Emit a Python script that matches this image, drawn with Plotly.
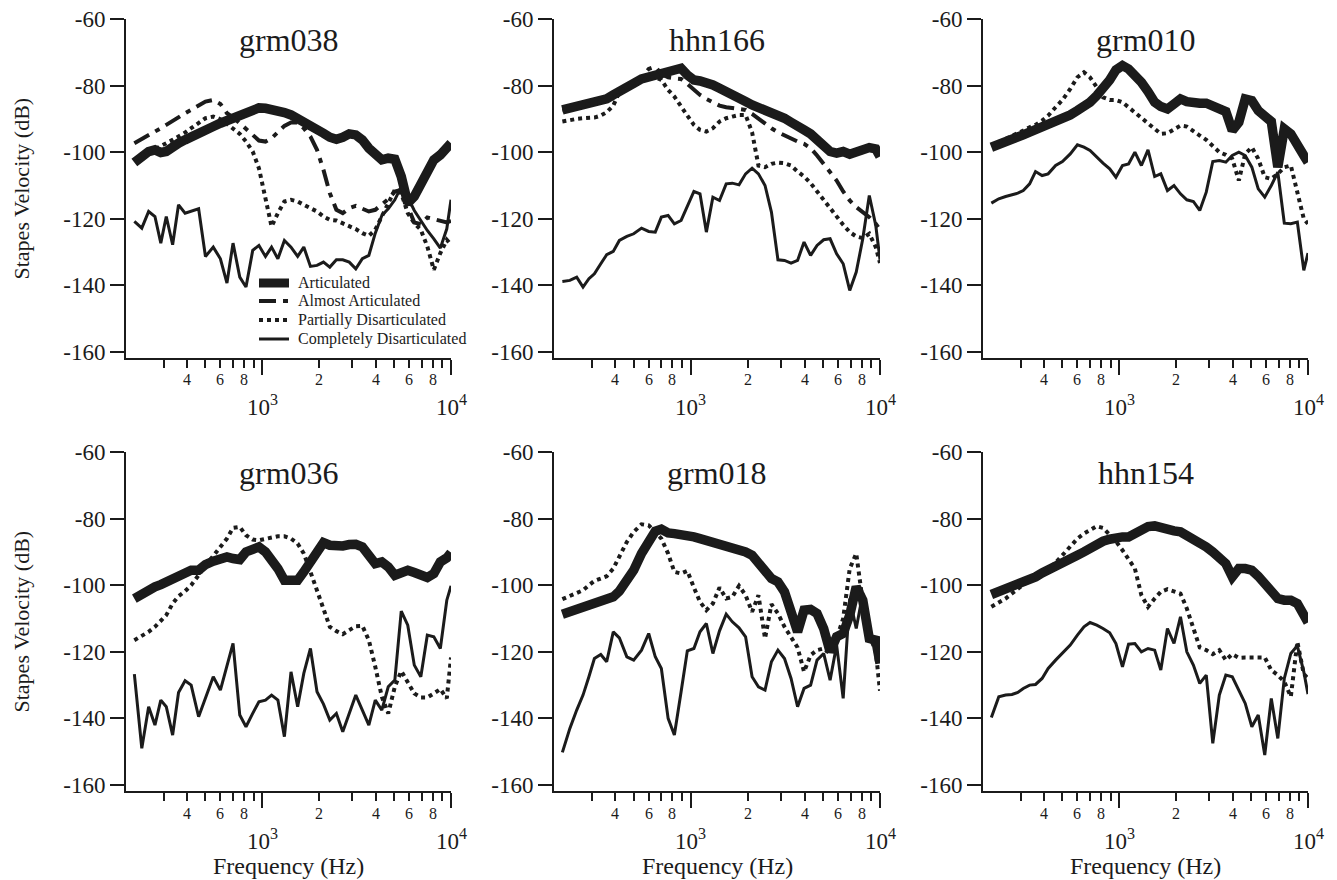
import numpy as np
import plotly.graph_objects as go

# ---------------- data ----------------
FREQ_HZ = [210, 230, 250, 270, 290, 310, 335, 360, 390, 420,
           460, 500, 550, 600, 650, 700, 760, 820, 890, 960,
           1040, 1120, 1210, 1310, 1420, 1540, 1660, 1800, 1950, 2110,
           2280, 2470, 2670, 2890, 3130, 3390, 3670, 3970, 4300, 4650,
           5040, 5450, 5900, 6390, 6920, 7490, 8110, 8780, 9500, 10000]

SERIES_NAMES = ["Articulated", "Almost Articulated",
                "Partially Disarticulated", "Completely Disarticulated"]

grm038_articulated = [
    -103.1, -101.3, -99.8, -99.3, -100.1, -99.8, -98.3, -97.3, -96.3, -95.3,
    -94.3, -93.3, -92.3, -91.3, -90.5, -89.5, -88.3, -87.6, -87.0, -86.7,
    -86.8, -87.1, -87.6, -88.1, -88.8, -89.8, -91.1, -92.1, -92.8, -94.3,
    -95.5, -96.1, -95.5, -94.5, -94.8, -96.3, -98.8, -100.8, -102.3, -101.8,
    -102.1, -107.3, -115.3, -113.3, -109.3, -105.3, -102.3, -100.8, -98.8, -97.3]
grm038_almost = [
    -97.3, -96.1, -94.8, -93.8, -92.8, -91.8, -90.5, -89.3, -88.3, -87.3,
    -86.1, -84.8, -84.3, -85.5, -88.3, -89.5, -91.3, -92.8, -94.8, -96.5,
    -96.8, -95.8, -93.8, -92.1, -91.1, -91.1, -92.8, -95.3, -99.3, -105.3,
    -112.3, -117.3, -118.3, -116.8, -116.1, -117.1, -117.8, -117.3, -115.8, -114.1,
    -111.8, -111.3, -116.3, -121.1, -121.6, -119.6, -120.1, -120.6, -121.1, -120.6]
grm038_partial = [
    -102.3, -101.3, -100.1, -99.1, -98.3, -97.3, -96.3, -95.3, -94.1, -92.8,
    -91.1, -89.8, -89.3, -90.1, -91.5, -92.8, -94.5, -96.8, -99.8, -104.8,
    -113.3, -122.3, -118.3, -114.8, -114.3, -114.8, -115.8, -116.8, -117.8, -119.3,
    -120.3, -120.5, -121.3, -122.1, -123.1, -124.3, -125.1, -123.3, -119.3, -115.3,
    -111.3, -112.3, -118.3, -121.3, -123.3, -128.3, -135.3, -130.3, -126.3, -127.8]
grm038_complete = [
    -120.8, -122.8, -117.8, -119.3, -127.3, -119.3, -127.8, -115.8, -118.3, -117.8,
    -117.0, -131.3, -128.5, -132.0, -139.3, -127.3, -137.5, -140.5, -129.5, -128.0,
    -131.3, -128.5, -132.0, -126.5, -128.5, -131.3, -128.5, -134.3, -134.0, -133.0,
    -134.5, -132.3, -132.3, -133.0, -135.0, -132.0, -131.0, -124.3, -119.0, -117.0,
    -114.3, -110.3, -113.5, -117.5, -120.5, -123.5, -126.0, -128.8, -123.0, -114.3]

hhn166_articulated = [
    -87.3, -86.8, -86.3, -86.0, -85.5, -85.0, -84.5, -84.0, -82.8, -81.5,
    -80.3, -79.3, -78.0, -77.5, -77.0, -76.5, -76.0, -75.3, -74.8, -76.8,
    -78.3, -78.6, -79.0, -79.8, -80.8, -82.0, -83.0, -84.0, -84.8, -85.8,
    -86.5, -87.5, -88.3, -88.8, -89.8, -91.0, -92.5, -93.3, -94.5, -96.0,
    -97.8, -99.8, -100.3, -99.8, -100.6, -99.8, -98.8, -98.6, -99.0, -101.3]
hhn166_almost = [
    -87.5, -87.0, -86.5, -86.2, -85.8, -85.3, -84.8, -84.0, -83.0, -81.8,
    -80.5, -79.0, -77.5, -75.0, -74.3, -76.5, -77.5, -77.8, -78.0, -79.5,
    -81.3, -82.8, -84.0, -85.0, -86.0, -86.5, -86.8, -87.0, -87.3, -88.5,
    -90.0, -91.3, -92.8, -94.0, -95.0, -96.0, -96.8, -97.5, -98.8, -101.0,
    -103.5, -105.8, -108.5, -111.8, -114.5, -116.5, -118.0, -119.5, -121.5, -123.3]
hhn166_partial = [
    -90.8, -90.3, -90.0, -89.8, -89.8, -89.6, -89.0, -88.0, -86.0, -82.0,
    -80.5, -79.5, -78.5, -77.8, -77.5, -78.3, -81.3, -83.3, -86.5, -89.0,
    -91.8, -93.3, -93.8, -92.8, -90.8, -89.8, -89.3, -88.8, -88.8, -94.0,
    -104.0, -104.5, -103.5, -103.1, -103.3, -104.0, -105.8, -107.3, -109.3, -111.8,
    -114.3, -116.8, -119.3, -121.8, -124.0, -125.3, -125.8, -124.5, -128.5, -133.3]
hhn166_complete = [
    -138.8, -138.5, -137.5, -140.5, -138.0, -136.5, -133.5, -130.8, -129.8, -126.5,
    -125.3, -124.5, -122.8, -123.8, -124.0, -119.5, -119.0, -121.5, -120.5, -116.5,
    -111.8, -112.5, -124.0, -113.5, -114.5, -109.5, -109.3, -109.8, -106.5, -104.8,
    -106.5, -110.0, -118.0, -132.3, -132.5, -133.3, -132.5, -127.0, -131.0, -128.0,
    -126.3, -126.0, -130.5, -133.5, -141.5, -136.0, -126.0, -113.0, -122.0, -132.3]

grm010_articulated = [
    -98.5, -97.8, -97.0, -96.3, -95.5, -94.8, -94.0, -93.3, -92.5, -91.8,
    -90.8, -89.8, -88.8, -87.5, -86.3, -85.0, -83.0, -81.0, -78.3, -75.3,
    -74.0, -75.0, -76.8, -79.0, -81.8, -85.0, -86.3, -87.0, -85.5, -84.0,
    -84.8, -85.3, -85.3, -85.3, -86.0, -87.0, -87.8, -93.5, -91.0, -84.0,
    -84.5, -87.5, -89.3, -90.8, -104.5, -93.0, -94.5, -98.5, -101.0, -103.0]
grm010_partial = [
    -98.0, -97.0, -96.0, -95.3, -94.5, -93.5, -92.5, -91.8, -90.5, -89.0,
    -86.5, -84.3, -81.0, -77.5, -76.0, -77.5, -80.5, -83.5, -84.3, -84.3,
    -85.0, -86.5, -88.0, -89.5, -91.5, -93.0, -94.5, -94.3, -93.0, -92.0,
    -92.3, -93.5, -95.0, -96.3, -98.0, -100.0, -100.8, -102.0, -108.5, -100.5,
    -98.5, -102.0, -107.5, -108.0, -106.5, -104.5, -104.0, -112.0, -120.0, -121.5]
grm010_complete = [
    -115.3, -114.0, -113.3, -112.8, -112.3, -111.5, -109.5, -105.8, -107.0, -106.5,
    -104.0, -102.8, -100.5, -97.8, -98.5, -99.5, -101.5, -103.3, -105.0, -107.5,
    -104.0, -103.5, -100.0, -104.0, -99.3, -107.3, -106.5, -111.5, -110.0, -112.5,
    -114.3, -114.8, -117.5, -112.0, -102.8, -102.5, -103.0, -101.0, -100.0, -101.0,
    -104.5, -111.0, -113.5, -110.0, -106.0, -121.3, -121.5, -121.0, -135.5, -130.3]

grm036_articulated = [
    -104.0, -102.5, -101.3, -100.5, -99.8, -99.0, -98.0, -97.3, -96.7, -95.5,
    -95.5, -93.8, -92.8, -92.2, -91.5, -92.0, -92.3, -90.0, -88.8, -88.5,
    -90.0, -92.0, -95.0, -98.5, -98.5, -98.5, -96.0, -93.0, -89.0, -87.2,
    -88.0, -88.3, -88.2, -87.8, -87.7, -88.5, -90.8, -93.5, -93.0, -94.5,
    -97.0, -96.5, -95.5, -96.2, -97.3, -97.7, -96.5, -93.0, -91.8, -90.2]
grm036_partial = [
    -116.5, -115.3, -114.0, -112.5, -110.8, -109.0, -105.5, -103.3, -101.8, -100.0,
    -97.0, -94.0, -91.2, -88.5, -86.0, -82.8, -82.5, -85.0, -86.3, -86.5,
    -86.0, -85.7, -85.3, -85.3, -86.0, -87.5, -90.5, -96.0, -101.5, -107.5,
    -112.5, -113.8, -114.7, -113.5, -112.3, -112.2, -116.5, -124.5, -133.5, -138.5,
    -130.5, -125.8, -129.0, -132.5, -133.7, -133.7, -132.5, -131.2, -134.0, -121.7]
grm036_complete = [
    -126.7, -149.0, -136.5, -142.0, -134.5, -136.5, -145.0, -132.2, -128.7, -130.0,
    -139.5, -134.0, -127.5, -131.5, -124.0, -117.5, -139.0, -142.5, -138.5, -135.0,
    -134.5, -133.0, -134.5, -145.5, -126.0, -136.5, -126.5, -119.0, -132.0, -135.7,
    -140.5, -138.5, -144.0, -138.5, -133.0, -137.5, -142.0, -134.5, -137.5, -130.5,
    -128.5, -107.8, -112.0, -124.0, -127.5, -115.0, -115.5, -119.0, -104.5, -100.2]

grm018_articulated = [
    -108.7, -108.0, -107.2, -106.5, -106.0, -105.5, -105.0, -104.8, -103.5, -101.8,
    -98.5, -95.5, -90.5, -87.0, -83.8, -83.2, -84.3, -84.5, -84.7, -85.0,
    -85.5, -86.0, -86.5, -87.0, -87.8, -88.7, -88.5, -89.0, -90.0, -91.0,
    -93.0, -96.0, -98.0, -99.0, -102.0, -108.0, -114.0, -107.5, -107.3, -108.5,
    -113.0, -120.0, -115.5, -114.5, -109.0, -100.5, -104.5, -116.0, -116.5, -123.5]
grm018_partial = [
    -104.2, -103.3, -102.3, -101.5, -100.0, -98.7, -98.0, -97.3, -95.0, -91.5,
    -87.0, -84.0, -81.7, -82.0, -84.0, -86.0, -90.5, -96.0, -96.5, -95.7,
    -100.7, -105.0, -107.5, -105.5, -100.7, -104.0, -103.5, -100.2, -103.0, -108.0,
    -103.0, -116.0, -105.7, -108.5, -112.5, -115.5, -118.7, -126.0, -121.0, -119.5,
    -119.0, -120.5, -116.0, -110.0, -95.0, -90.5, -105.0, -114.8, -120.0, -131.7]
grm018_complete = [
    -150.2, -143.0, -137.5, -133.0, -127.5, -122.0, -120.8, -123.0, -114.0, -115.8,
    -121.5, -122.5, -119.5, -114.5, -121.5, -125.0, -140.0, -145.0, -132.0, -119.7,
    -119.0, -114.0, -111.5, -120.5, -113.7, -108.7, -111.0, -112.8, -115.5, -127.5,
    -130.5, -131.5, -123.0, -119.5, -122.0, -128.0, -136.5, -131.0, -130.0, -122.5,
    -120.5, -128.5, -118.0, -134.0, -104.0, -113.0, -102.5, -115.5, -118.0, -122.7]

hhn154_articulated = [
    -102.8, -102.0, -101.2, -100.5, -100.0, -99.2, -98.3, -97.5, -96.3, -95.5,
    -94.5, -93.5, -92.3, -91.0, -90.0, -88.8, -87.8, -86.8, -86.2, -85.7,
    -85.5, -85.5, -84.5, -83.0, -82.4, -82.2, -82.8, -83.5, -83.7, -84.0,
    -85.0, -86.0, -87.0, -88.5, -90.0, -91.8, -93.5, -97.5, -95.0, -95.0,
    -95.5, -97.3, -99.5, -102.0, -104.0, -104.5, -104.5, -105.5, -109.0, -111.2]
hhn154_partial = [
    -106.5, -105.3, -104.0, -102.5, -101.2, -99.8, -98.8, -97.8, -96.5, -95.0,
    -93.2, -91.0, -88.5, -86.0, -84.5, -83.3, -82.3, -82.8, -85.0, -86.8,
    -89.5, -92.0, -95.0, -103.0, -106.5, -104.0, -102.0, -101.2, -102.0, -102.5,
    -107.0, -113.0, -118.7, -119.5, -120.7, -119.5, -122.5, -120.7, -121.8, -121.7,
    -121.7, -121.7, -121.7, -125.5, -127.0, -129.0, -133.5, -117.0, -126.7, -128.0]
hhn154_complete = [
    -139.7, -133.5, -133.0, -132.8, -132.2, -131.0, -130.0, -129.8, -128.0, -125.0,
    -122.5, -120.5, -118.0, -115.0, -112.5, -111.2, -112.0, -113.0, -114.3, -117.5,
    -124.5, -117.7, -117.5, -120.0, -119.0, -119.5, -125.5, -113.0, -117.5, -109.5,
    -120.0, -124.0, -129.5, -127.0, -147.5, -133.0, -127.0, -127.5, -131.5, -135.5,
    -142.5, -139.0, -151.0, -134.0, -146.0, -128.0, -120.5, -118.2, -126.0, -132.7]

PANEL_TITLES = ["grm038", "hhn166", "grm010", "grm036", "grm018", "hhn154"]
PANEL_SERIES = [
    {"Articulated": grm038_articulated, "Almost Articulated": grm038_almost,
     "Partially Disarticulated": grm038_partial, "Completely Disarticulated": grm038_complete},
    {"Articulated": hhn166_articulated, "Almost Articulated": hhn166_almost,
     "Partially Disarticulated": hhn166_partial, "Completely Disarticulated": hhn166_complete},
    {"Articulated": grm010_articulated,
     "Partially Disarticulated": grm010_partial, "Completely Disarticulated": grm010_complete},
    {"Articulated": grm036_articulated,
     "Partially Disarticulated": grm036_partial, "Completely Disarticulated": grm036_complete},
    {"Articulated": grm018_articulated,
     "Partially Disarticulated": grm018_partial, "Completely Disarticulated": grm018_complete},
    {"Articulated": hhn154_articulated,
     "Partially Disarticulated": hhn154_partial, "Completely Disarticulated": hhn154_complete},
]

Y_TICKS = [-60, -80, -100, -120, -140, -160]
Y_TICK_TEXT = ["-60", "-80", "-100", "-120", "-140", "-160"]
X_DECADE_TICKS = [1000, 10000]
X_DECADE_TEXT = ["10<sup>3</sup>", "10<sup>4</sup>"]
X_MINOR_TICKS = [300, 400, 500, 600, 700, 800, 900, 2000, 3000, 4000, 5000, 6000, 7000, 8000, 9000]
X_DIGIT_TICKS = [400, 600, 800, 2000, 4000, 6000, 8000]
X_DIGIT_TEXT = ["4", "6", "8", "2", "4", "6", "8"]

# ---------------- styles / layout ----------------
W, H = 1337, 880
OFF = 8  # page body margin: screen px = figure px + OFF
INK = "#1b1b1b"
FONT = "Liberation Serif"
STYLE = {
    "Articulated": dict(width=9.5, dash="solid"),
    "Almost Articulated": dict(width=4, dash="17px,7px,5px,7px"),
    "Partially Disarticulated": dict(width=4, dash="4px,4px"),
    "Completely Disarticulated": dict(width=3, dash="solid"),
}
# plot-area edges in screen pixels
COLS_PX = [(126, 451), (554, 880), (983, 1308)]
ROWS_PX = [(19, 358), (452, 791)]
X_RANGE = [2.278, 4.0]
Y_RANGE = [-161.8, -60]


def fx(px):
    return (px - OFF) / W


def fy(py):
    return 1 - (py - OFF) / H


fig = go.Figure()
annotations = []
shapes = []

for i, title in enumerate(PANEL_TITLES):
    r, c = divmod(i, 3)
    n = i + 1
    xa = "x" if n == 1 else f"x{n}"
    ya = "y" if n == 1 else f"y{n}"
    xl = "xaxis" if n == 1 else f"xaxis{n}"
    yl = "yaxis" if n == 1 else f"yaxis{n}"
    x0, x1 = COLS_PX[c]
    top, bot = ROWS_PX[r]
    plot_h = bot - top

    for name in SERIES_NAMES:
        if name not in PANEL_SERIES[i]:
            continue
        st = STYLE[name]
        fig.add_trace(go.Scatter(
            x=FREQ_HZ, y=PANEL_SERIES[i][name], mode="lines", name=name,
            line=dict(color=INK, width=st["width"], dash=st["dash"]),
            showlegend=False, xaxis=xa, yaxis=ya, hoverinfo="skip"))

    fig.update_layout(**{
        xl: dict(domain=[fx(x0), fx(x1)], anchor=ya, type="log", range=X_RANGE,
                 automargin=False,
                 showline=True, linecolor=INK, linewidth=2, showgrid=False, zeroline=False,
                 ticks="outside", tickmode="array", tickvals=X_DECADE_TICKS,
                 ticklen=15, tickwidth=2, tickcolor=INK,
                 showticklabels=False,
                 minor=dict(tickmode="array", tickvals=X_MINOR_TICKS, ticks="outside",
                            ticklen=8, tickwidth=2, tickcolor=INK, showgrid=False)),
        yl: dict(domain=[fy(bot), fy(top)], anchor=xa, range=Y_RANGE,
                 automargin=False, ticklabeloverflow="allow",
                 showline=True, linecolor=INK, linewidth=2, showgrid=False, zeroline=False,
                 ticks="outside", tickmode="array", tickvals=Y_TICKS, ticktext=Y_TICK_TEXT,
                 ticklen=14, tickwidth=2, tickcolor=INK,
                 tickfont=dict(family=FONT, size=23, color=INK)),
    })

    # digit tick labels
    for v, t in zip(X_DIGIT_TICKS, X_DIGIT_TEXT):
        annotations.append(dict(x=np.log10(v), xref=xa, y=-22 / plot_h, yref=f"{ya} domain",
                                text=t, showarrow=False, xanchor="center", yanchor="middle",
                                font=dict(family=FONT, size=16, color=INK)))
    for v, t in zip(X_DECADE_TICKS, X_DECADE_TEXT):
        annotations.append(dict(x=np.log10(v), xref=xa, y=-48 / plot_h, yref=f"{ya} domain",
                                text=t, showarrow=False, xanchor="center", yanchor="middle",
                                font=dict(family=FONT, size=23, color=INK)))
    # panel title
    annotations.append(dict(x=0.5, xref=f"{xa} domain", y=1 - 21 / plot_h, yref=f"{ya} domain",
                            text=title, showarrow=False, xanchor="center", yanchor="middle",
                            font=dict(family=FONT, size=32, color=INK)))
    if r == 1:
        annotations.append(dict(x=0.5, xref=f"{xa} domain", y=-75 / plot_h, yref=f"{ya} domain",
                                text="Frequency (Hz)", showarrow=False, xanchor="center",
                                yanchor="middle", font=dict(family=FONT, size=24, color=INK)))
    if c == 0:
        annotations.append(dict(x=fx(21), xref="paper", y=0.5, yref=f"{ya} domain",
                                text="Stapes Velocity (dB)", showarrow=False, textangle=-90,
                                xanchor="center", yanchor="middle",
                                font=dict(family=FONT, size=22, color=INK)))

# manual legend in first panel
LEG_Y_PX = [283, 301, 320, 339]
px0, px1 = COLS_PX[0]
ptop, pbot = ROWS_PX[0]
for name, ypx in zip(SERIES_NAMES, LEG_Y_PX):
    st = STYLE[name]
    yd = (pbot - ypx) / (pbot - ptop)
    shapes.append(dict(type="line", xref="x domain", yref="y domain",
                       x0=(259 - px0) / (px1 - px0), x1=(289 - px0) / (px1 - px0), y0=yd, y1=yd,
                       line=dict(color=INK, width=9 if name == "Articulated" else st["width"],
                                 dash=st["dash"])))
    annotations.append(dict(x=(296 - px0) / (px1 - px0), xref="x domain", y=yd, yref="y domain",
                            text=name, showarrow=False, xanchor="left", yanchor="middle",
                            font=dict(family=FONT, size=16, color=INK)))

fig.update_layout(template="none", width=W, height=H,
                  margin=dict(l=0, r=0, t=0, b=0, pad=0, autoexpand=False),
                  paper_bgcolor="white", plot_bgcolor="white",
                  font=dict(family=FONT, color=INK),
                  annotations=annotations, shapes=shapes, showlegend=False)

fig.write_html("out.html")
